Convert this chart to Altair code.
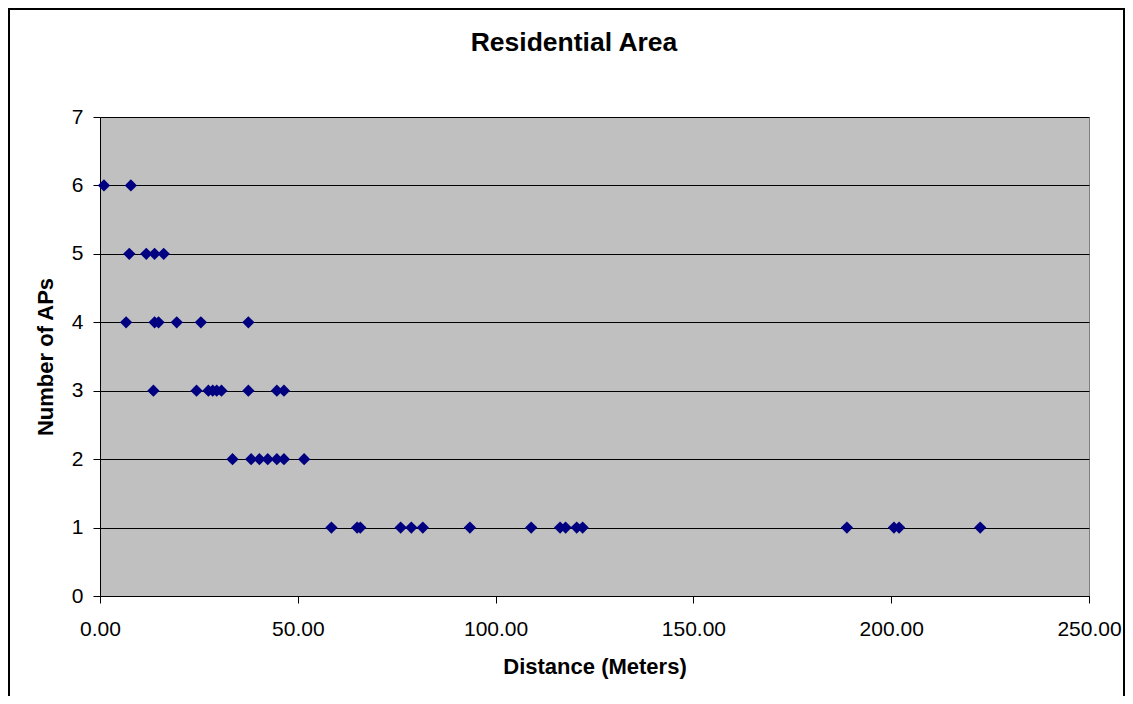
import altair as alt
import pandas as pd

# Data
aps_6 = [1.0, 7.8]
aps_5 = [7.4, 11.7, 13.8, 16.1]
aps_4 = [6.6, 13.8, 14.8, 19.4, 25.5, 37.5]
aps_3 = [13.5, 24.4, 27.4, 28.5, 29.5, 30.7, 37.5, 44.7, 46.5]
aps_2 = [33.5, 38.2, 40.3, 42.4, 44.7, 46.5, 51.6]
aps_1 = [58.5, 65.0, 65.8, 76.0, 78.7, 81.6, 93.5, 109.0, 116.3, 117.7,
         120.5, 122.0, 188.8, 200.7, 202.0, 222.5]
title_text = ["Residential Area"]

rows = []
for n, xs in [(6, aps_6), (5, aps_5), (4, aps_4), (3, aps_3), (2, aps_2), (1, aps_1)]:
    for d in xs:
        rows.append({"Distance": d, "APs": n})
df = pd.DataFrame(rows)

FONT = "Liberation Sans"

points = alt.Chart(df).mark_point(
    shape="diamond", filled=True, color="#000080", size=150, opacity=1
).encode(
    x=alt.X("Distance:Q",
            scale=alt.Scale(domain=[0, 250], nice=False, zero=True),
            axis=alt.Axis(values=[0, 50, 100, 150, 200, 250], format=".2f",
                          title="Distance (Meters)", grid=False,
                          labelFontSize=21, labelFont=FONT, labelColor="black",
                          labelPadding=15, tickSize=7, tickColor="black",
                          domainColor="black", titleFontSize=22, titleFont=FONT,
                          titleFontWeight="bold", titleColor="black",
                          titlePadding=17, labelFlush=False)),
    y=alt.Y("APs:Q",
            scale=alt.Scale(domain=[0, 7], nice=False),
            axis=alt.Axis(values=[0, 1, 2, 3, 4, 5, 6, 7], format="d",
                          title="Number of APs", grid=True, gridColor="black",
                          gridOpacity=1, gridWidth=1,
                          labelFontSize=21, labelFont=FONT, labelColor="black",
                          labelPadding=10, tickSize=7, tickColor="black",
                          domainColor="black", titleFontSize=22, titleFont=FONT,
                          titleFontWeight="bold", titleColor="black",
                          titlePadding=14, labelFlush=False)),
)

border = alt.Chart(pd.DataFrame({"k": [0]})).mark_rect(
    fill=None, stroke="black", strokeWidth=2, clip=False
).encode(
    x=alt.value(-91), x2=alt.value(1024), y=alt.value(-108), y2=alt.value(640)
)

title = alt.Chart(pd.DataFrame({"t": title_text})).mark_text(
    font=FONT, fontSize=26.5, fontWeight="bold", color="black",
    align="center", baseline="alphabetic", clip=False
).encode(
    text="t:N", x=alt.value(474), y=alt.value(-66)
)

chart = alt.layer(border, points, title).properties(
    width=989,
    height=479,
    padding={"left": 92, "top": 109, "right": 36, "bottom": 100},
    autosize=alt.AutoSizeParams(type="none"),
    background="white",
).configure_view(
    fill="#C0C0C0", stroke="#808080", strokeWidth=1
)

chart.save("out.html", embed_options={"renderer": "svg", "actions": False})
